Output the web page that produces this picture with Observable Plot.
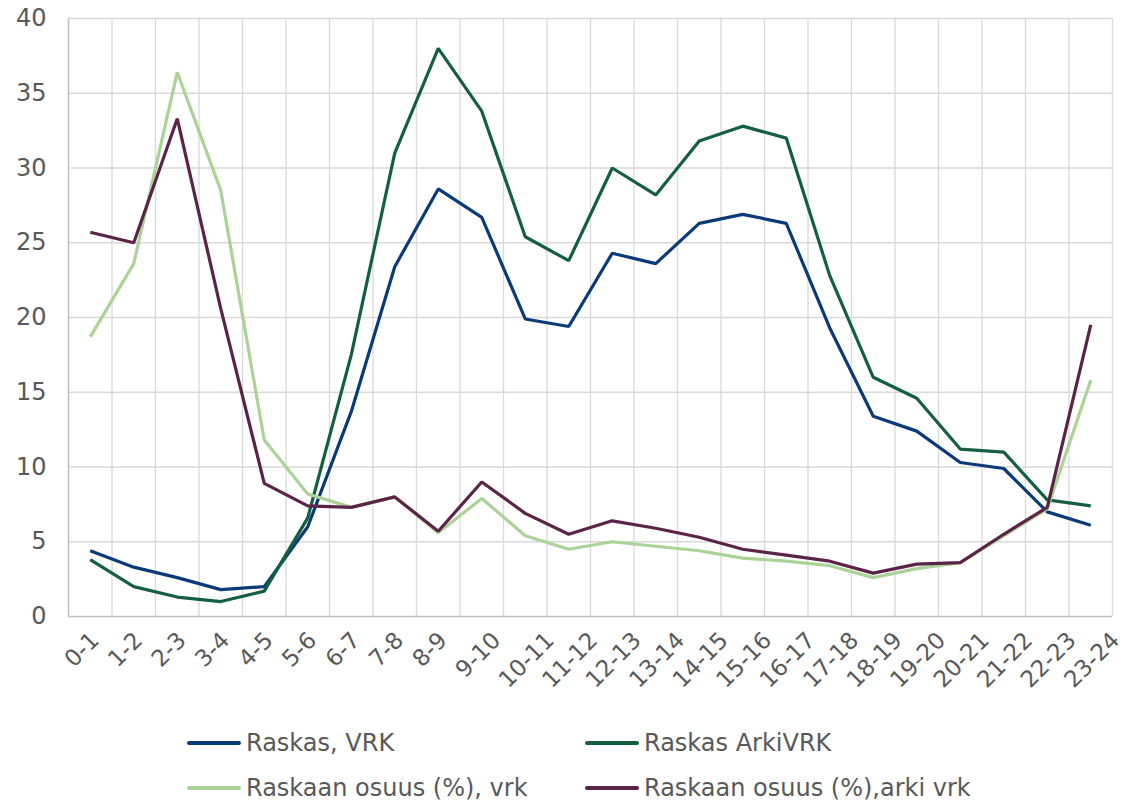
<!DOCTYPE html>
<html>
<head>
<meta charset="utf-8">
<script src="https://cdn.jsdelivr.net/npm/d3@7"></script>
<script src="https://cdn.jsdelivr.net/npm/@observablehq/plot@0.6"></script>
<style>
  html, body { margin: 0; padding: 0; background: #fff; }
  #wrap { position: relative; width: 1130px; height: 803px; font-family: "DejaVu Sans", Verdana, sans-serif; }
  #chart { position: absolute; left: 0; top: 0; }
  .leg { position: absolute; display: flex; align-items: center; font-size: 24px; color: #595959; white-space: nowrap; }
  .leg .sw { width: 54px; height: 4px; margin-right: 5px; border-radius: 2px; }
</style>
</head>
<body>
<div id="wrap">
  <div id="chart"></div>
</div>
<script>
const hours = ["0-1","1-2","2-3","3-4","4-5","5-6","6-7","7-8","8-9","9-10","10-11","11-12","12-13","13-14","14-15","15-16","16-17","17-18","18-19","19-20","20-21","21-22","22-23","23-24"];
const raskasVrk = [4.4,3.3,2.6,1.8,2.0,6.0,13.7,23.4,28.6,26.7,19.9,19.4,24.3,23.6,26.3,26.9,26.3,19.3,13.4,12.4,10.3,9.9,7.0,6.1];
const raskasArkiVrk = [3.8,2.0,1.3,1.0,1.7,6.6,17.5,31.0,38.0,33.8,25.4,23.8,30.0,28.2,31.8,32.8,32.0,22.8,16.0,14.6,11.2,11.0,7.8,7.4];
const osuusVrk = [18.7,23.6,36.4,28.5,11.8,8.2,7.3,8.0,5.6,7.9,5.4,4.5,5.0,4.7,4.4,3.9,3.7,3.4,2.6,3.2,3.6,5.4,7.2,15.8];
const osuusArkiVrk = [25.7,25.0,33.3,20.6,8.9,7.4,7.3,8.0,5.7,9.0,6.9,5.5,6.4,5.9,5.3,4.5,4.1,3.7,2.9,3.5,3.6,5.5,7.3,19.5];
const seriesNames = ["Raskas, VRK","Raskas ArkiVRK","Raskaan osuus (%), vrk","Raskaan osuus (%),arki vrk"];
const seriesColors = ["#0b3a78","#145f41","#acd397","#5c2349"];
const yTicks = [0,5,10,15,20,25,30,35,40];

const seriesValues = [raskasVrk, raskasArkiVrk, osuusVrk, osuusArkiVrk];
const data = [];
seriesValues.forEach((vals, s) => vals.forEach((v, i) => data.push({series: seriesNames[s], pos: i + 0.5, hour: hours[i], value: v})));
const centers = hours.map((h, i) => i + 0.5);
const bounds = d3.range(0, hours.length + 1);
const labelOf = d => hours[Math.round(d - 0.5)];

// Excel shifts longer rotated labels further right; group ticks by label length
const xAxes = [3, 4, 5].map(len => Plot.axisX({
  ticks: centers.filter(c => labelOf(c).length === len),
  tickFormat: labelOf, tickRotate: -45, tickSize: 0, tickPadding: 20,
  fontSize: 23, color: "#595959", label: null, dx: 5 + (len - 3) * 10
}));

const chart = Plot.plot({
  width: 1130,
  height: 712,
  marginLeft: 68,
  marginRight: 18,
  marginTop: 18,
  marginBottom: 96,
  style: {fontFamily: "DejaVu Sans, Verdana, sans-serif", background: "#fff", overflow: "visible"},
  x: {type: "linear", domain: [0, hours.length]},
  y: {domain: [0, 40]},
  color: {domain: seriesNames, range: seriesColors},
  marks: [
    Plot.ruleX(bounds.slice(1), {stroke: "#d9d9d9", strokeWidth: 1.3}),
    Plot.ruleY(yTicks.slice(1), {stroke: "#d9d9d9", strokeWidth: 1.3}),
    Plot.ruleX([0], {stroke: "#bfbfbf", strokeWidth: 1.5}),
    Plot.ruleY([0], {stroke: "#bfbfbf", strokeWidth: 1.5}),
    Plot.axisY({ticks: yTicks, tickSize: 0, tickPadding: 22, fontSize: 24, color: "#595959", label: null}),
    ...xAxes,
    Plot.line(data, {x: "pos", y: "value", z: "series", stroke: "series", strokeWidth: 3.2, strokeLinejoin: "miter", strokeLinecap: "butt"})
  ]
});
document.getElementById("chart").appendChild(chart);

const legendPos = [[187, 743], [585, 743], [187, 788], [585, 788]];
const wrap = document.getElementById("wrap");
seriesNames.forEach((name, i) => {
  const el = document.createElement("div");
  el.className = "leg";
  el.style.left = legendPos[i][0] + "px";
  el.style.top = (legendPos[i][1] - 15) + "px";
  el.style.height = "30px";
  const sw = document.createElement("span");
  sw.className = "sw";
  sw.style.background = seriesColors[i];
  const tx = document.createElement("span");
  tx.textContent = name;
  el.appendChild(sw); el.appendChild(tx);
  wrap.appendChild(el);
});
</script>
</body>
</html>
